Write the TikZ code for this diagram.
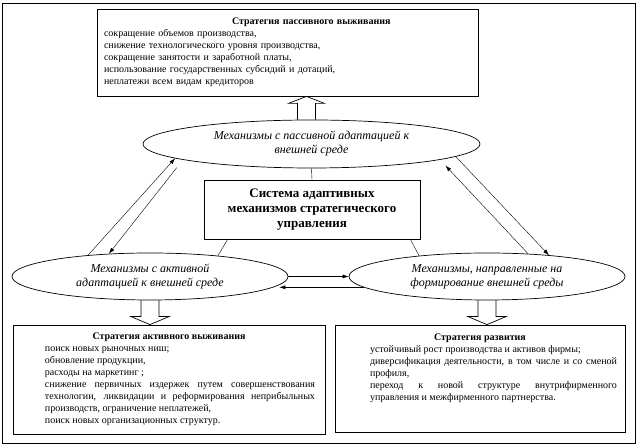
\documentclass[tikz,border=0pt]{standalone}
\usepackage{fontspec}
\setmainfont{Liberation Serif}
\usetikzlibrary{shapes.geometric,arrows.meta,calc}
\setlength{\parindent}{0pt}
\begin{document}
\begin{tikzpicture}[x=1pt, y=1pt, >={Latex[length=6pt,width=4pt]},
  box/.style={draw, line width=0.8pt, inner ysep=0pt, font=\fontsize{10}{12}\selectfont},
  oval/.style={draw, ellipse, line width=0.7pt, inner sep=0pt, align=center, font=\fontsize{12}{14}\selectfont\itshape},
  fat/.style={line width=0.7pt}]
\useasboundingbox (0,0) rectangle (638,446);
\draw[line width=0.7pt] (2,3) rectangle (635,443);
% strategies
\node[box, minimum width=381pt, minimum height=87pt, text width=367pt, inner xsep=7pt, align=left] (ps) at (287.5,393.5)
  {{\hspace*{128pt}\bfseries Стратегия пассивного выживания\par}
   сокращение объемов производства,\\
   снижение технологического уровня производства,\\
   сокращение занятости и заработной платы,\\
   использование государственных субсидий и дотаций,\\
   неплатежи всем видам кредиторов};
\node[box, minimum width=312pt, minimum height=109pt, text width=292pt, inner xsep=10pt, align=justify] (as) at (169,66.5)
  {{\centering\bfseries Стратегия активного выживания\par}
   {\leftskip=22pt поиск новых рыночных ниш;\par
   обновление продукции,\par
   расходы на маркетинг ;\par
   снижение первичных издержек путем совершенствования\linebreak
   технологии, ликвидации и реформирования неприбыльных\linebreak
   производств, ограничение неплатежей,\par
   поиск новых организационных структур.\par}};
\node[box, minimum width=290pt, minimum height=107pt, text width=274pt, inner xsep=8pt, align=justify] (ds) at (480,67.5)
  {{\centering\bfseries Стратегия развития\par}
   {\leftskip=27pt устойчивый рост производства и активов фирмы;\par
   диверсификация деятельности, в том числе и со сменой\linebreak
   профиля,\par
   переход к новой структуре внутрифирменного\linebreak
   управления и межфирменного партнерства.\par}
   \vspace*{10pt}\mbox{}};
% mechanisms
\node[oval, minimum width=337pt, minimum height=48pt] (pe) at (311.5,302)
  {Механизмы с пассивной адаптацией к\\ внешней среде};
\node[oval, minimum width=276pt, minimum height=47pt] (ae) at (150,169.5)
  {Механизмы с активной\\ адаптацией к внешней среде};
\node[oval, minimum width=276pt, minimum height=47pt] (fe) at (487,169.5)
  {Механизмы, направленные на\\ формирование внешней среды};
\node[draw, line width=0.8pt, minimum width=216pt, minimum height=59pt, align=center,
  font=\fontsize{13}{15}\selectfont\bfseries] (sys) at (312,236.5)
  {Система адаптивных\\ механизмов стратегического\\ управления};
% links
\draw (pe.south) -- (sys.north);
\draw ([xshift=24pt]sys.south west) -- (ae.17);
\draw ([xshift=-10pt]sys.south east) -- (fe.163);
\draw[->] (ae.161) -- (pe.186);
\draw[->, shorten <=10pt] (pe.187) -- (ae.151);
\draw[->] (pe.355) -- (fe.19);
\draw[->, shorten >=8pt] (fe.29) -- (pe.353);
\draw[->] (ae.east) -- (fe.west);
\draw[->, shorten >=6pt] (fe.185) -- (ae.355);
% wide arrows
\draw[fat] let \p1=([xshift=-5pt]pe.north), \p2=(ps.south) in
  (\x1-9pt,\y1) -- (\x1-9pt,\y2-7pt) -- (\x1-18pt,\y2-7pt) -- (\x1,\y2)
  -- (\x1+18pt,\y2-7pt) -- (\x1+9pt,\y2-7pt) -- (\x1+9pt,\y1);
\draw[fat] let \p1=(ae.south), \p2=(as.north) in
  (\x1-9pt,\y1) -- (\x1-9pt,\y2+8pt) -- (\x1-19pt,\y2+8pt) -- (\x1,\y2)
  -- (\x1+19pt,\y2+8pt) -- (\x1+9pt,\y2+8pt) -- (\x1+9pt,\y1);
\draw[fat] let \p1=(fe.south), \p2=(ds.north) in
  (\x1-9pt,\y1) -- (\x1-9pt,\y2+8pt) -- (\x1-19pt,\y2+8pt) -- (\x1,\y2)
  -- (\x1+19pt,\y2+8pt) -- (\x1+9pt,\y2+8pt) -- (\x1+9pt,\y1);
\end{tikzpicture}
\end{document}
